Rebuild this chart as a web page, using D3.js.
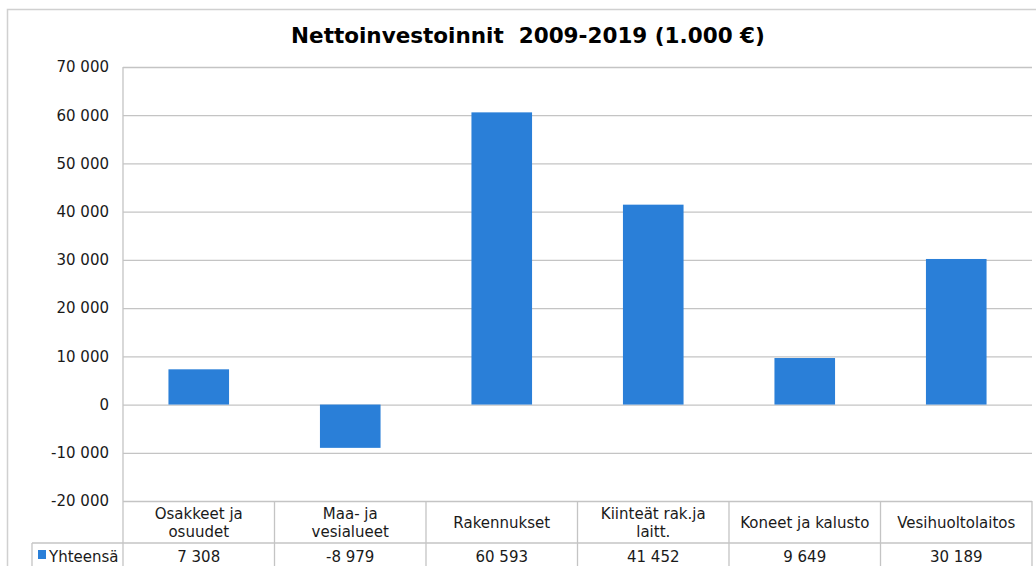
<!DOCTYPE html>
<html>
<head>
<meta charset="utf-8">
<script src="https://cdn.jsdelivr.net/npm/d3@7"></script>
<style>
  body { margin: 0; background: #fff; }
  text { font-family: "DejaVu Sans", Verdana, sans-serif; }
</style>
</head>
<body>
<div id="chart"></div>
<script>
// data
const categories = [["Osakkeet ja", "osuudet"], ["Maa- ja", "vesialueet"], ["Rakennukset"],
  ["Kiinteät rak.ja", "laitt."], ["Koneet ja kalusto"], ["Vesihuoltolaitos"]];
const values = [7308, -8979, 60593, 41452, 9649, 30189];
const yTicks = [-20000, -10000, 0, 10000, 20000, 30000, 40000, 50000, 60000, 70000];
const seriesName = "Yhteensä";

const W = 1036, H = 566;
const margin = {top: 67, right: 4, bottom: 65, left: 123};
const width = W - margin.left - margin.right,
    height = H - margin.top - margin.bottom;

const fmt = d => d3.format(",")(d).replace(/,/g, " ").replace("−", "-");

const svg = d3.select("#chart")
  .append("svg")
    .attr("width", W)
    .attr("height", H);

// outer frame
svg.append("rect")
  .attr("x", 7.5).attr("y", 9.5)
  .attr("width", W + 10).attr("height", H + 10)
  .attr("fill", "none")
  .attr("stroke", "#d0d0d0")
  .attr("stroke-width", 1.5);

svg.append("text")
  .attr("x", 528)
  .attr("y", 43)
  .attr("text-anchor", "middle")
  .style("white-space", "pre")
  .style("font-size", "21.5px")
  .style("font-weight", "bold")
  .attr("fill", "#000")
  .text("Nettoinvestoinnit  2009-2019 (1.000 €)");

const g = svg.append("g")
  .attr("transform", `translate(${margin.left},${margin.top})`);

const x = d3.scaleBand()
  .domain(d3.range(categories.length))
  .range([0, width])
  .paddingInner(0.6)
  .paddingOuter(0.3);

const xCol = d3.scaleBand()
  .domain(d3.range(categories.length))
  .range([0, width]);

const y = d3.scaleLinear()
  .domain([-20000, 70000])
  .range([height, 0]);

// gridlines + tick labels
const yAxis = d3.axisLeft(y)
  .tickValues(yTicks)
  .tickSize(-width)
  .tickPadding(14)
  .tickFormat(fmt);

g.append("g")
  .call(yAxis)
  .call(a => a.select(".domain").remove())
  .call(a => a.selectAll("line").attr("stroke", "#c4c4c4").attr("stroke-width", 1.3))
  .call(a => a.selectAll("text")
    .style("font-size", "15px")
    .attr("fill", "#1a1a1a"));

// bars
g.selectAll("rect.bar")
  .data(values)
  .enter()
  .append("rect")
    .attr("class", "bar")
    .attr("x", (d, i) => x(i))
    .attr("width", x.bandwidth())
    .attr("y", d => y(Math.max(0, d)))
    .attr("height", d => Math.abs(y(d) - y(0)))
    .attr("fill", "#2a7fd8");

// data table under the plot
const lineColor = "#c4c4c4";
const tTop = height, tMid = height + 42, tBot = height + 80;

// left axis line, running down through the table
g.append("line")
  .attr("x1", 0).attr("x2", 0)
  .attr("y1", 0).attr("y2", tBot)
  .attr("stroke", lineColor).attr("stroke-width", 1.3);

g.selectAll("line.col")
  .data(d3.range(1, categories.length + 1))
  .enter()
  .append("line")
    .attr("class", "col")
    .attr("x1", d => d === categories.length ? width : xCol(d))
    .attr("x2", d => d === categories.length ? width : xCol(d))
    .attr("y1", tTop).attr("y2", tBot)
    .attr("stroke", lineColor).attr("stroke-width", 1.3);

g.append("line")
  .attr("x1", -91).attr("x2", width)
  .attr("y1", tMid).attr("y2", tMid)
  .attr("stroke", lineColor).attr("stroke-width", 1.3);

g.append("line")
  .attr("x1", -91).attr("x2", -91)
  .attr("y1", tMid).attr("y2", tBot)
  .attr("stroke", lineColor).attr("stroke-width", 1.3);

// category labels
categories.forEach((lines, i) => {
  const cx = xCol(i) + xCol.bandwidth() / 2;
  const t = g.append("text")
    .attr("text-anchor", "middle")
    .style("font-size", "15px")
    .attr("fill", "#1a1a1a");
  const y0 = lines.length === 1 ? tTop + 26.5 : tTop + 18;
  lines.forEach((s, k) => {
    t.append("tspan")
      .attr("x", cx)
      .attr("y", y0 + k * 18)
      .text(s);
  });
});

// values row
g.selectAll("text.val")
  .data(values)
  .enter()
  .append("text")
    .attr("class", "val")
    .attr("x", (d, i) => xCol(i) + xCol.bandwidth() / 2)
    .attr("y", tMid + 19)
    .attr("text-anchor", "middle")
    .style("font-size", "15px")
    .attr("fill", "#1a1a1a")
    .text(fmt);

// legend key
g.append("rect")
  .attr("x", -85).attr("y", tMid + 7)
  .attr("width", 8).attr("height", 9)
  .attr("fill", "#2a7fd8");

g.append("text")
  .attr("x", -74)
  .attr("y", tMid + 19)
  .style("font-size", "15px")
  .attr("fill", "#1a1a1a")
  .text(seriesName);
</script>
</body>
</html>
